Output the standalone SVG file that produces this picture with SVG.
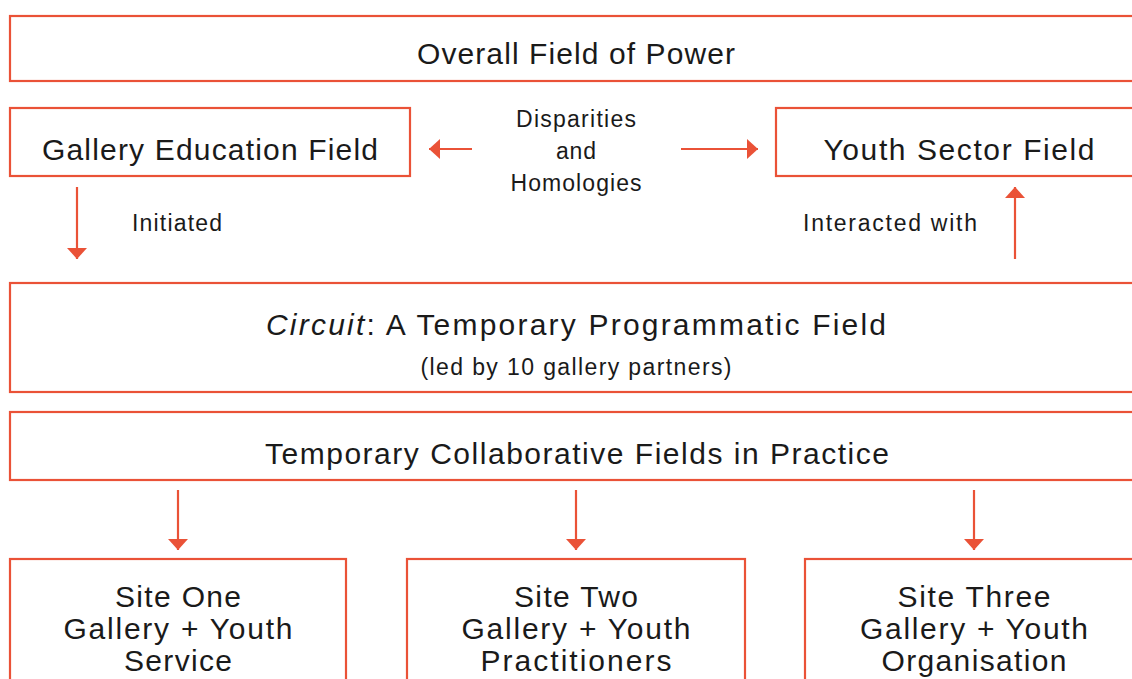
<svg xmlns="http://www.w3.org/2000/svg" width="1132" height="679" viewBox="0 0 1132 679">
  <style>
    .box { fill: #ffffff; stroke: #ea5237; stroke-width: 2.2; }
    .edge { stroke: #ea5237; stroke-width: 2.2; fill: none; }
    .t { font-family: "Liberation Sans", Arial, sans-serif; fill: #1a1a1a; text-anchor: middle; }
    .big { font-size: 30px; }
    .mid { font-size: 23px; }
    .site { font-size: 30px; }
  </style>
  <defs>
    <marker id="head" viewBox="0 0 11 20" refX="11" refY="10" markerWidth="11" markerHeight="20" markerUnits="userSpaceOnUse" orient="auto">
      <path d="M0,0 L11,10 L0,20 Z" fill="#ea5237"/>
    </marker>
  </defs>
  <rect width="1132" height="679" fill="#ffffff"/>

  <g id="overall-field">
    <rect class="box" x="10" y="16" width="1140" height="65"/>
    <text class="t big" x="576" y="64" textLength="318" lengthAdjust="spacing">Overall Field of Power</text>
  </g>

  <g id="gallery-education-field">
    <rect class="box" x="10" y="108" width="400" height="68"/>
    <text class="t big" x="210" y="160" textLength="336" lengthAdjust="spacing">Gallery Education Field</text>
  </g>

  <g id="youth-sector-field">
    <rect class="box" x="776" y="108" width="374" height="68"/>
    <text class="t big" x="959" y="160" textLength="271" lengthAdjust="spacing">Youth Sector Field</text>
  </g>

  <g id="circuit-field">
    <rect class="box" x="10" y="283" width="1140" height="109"/>
    <text class="t big" x="576" y="335" textLength="620" lengthAdjust="spacing"><tspan font-style="italic">Circuit</tspan>: A Temporary Programmatic Field</text>
    <text class="t mid" x="576" y="375" textLength="311" lengthAdjust="spacing">(led by 10 gallery partners)</text>
  </g>

  <g id="collaborative-fields">
    <rect class="box" x="10" y="412" width="1140" height="68"/>
    <text class="t big" x="577" y="464" textLength="624" lengthAdjust="spacing">Temporary Collaborative Fields in Practice</text>
  </g>

  <g id="site-one">
    <rect class="box" x="10" y="559" width="336" height="140"/>
    <text class="t site" x="178" y="607" textLength="126" lengthAdjust="spacing">Site One</text>
    <text class="t site" x="178" y="639" textLength="229" lengthAdjust="spacing">Gallery + Youth</text>
    <text class="t site" x="178" y="671" textLength="108" lengthAdjust="spacing">Service</text>
  </g>

  <g id="site-two">
    <rect class="box" x="407" y="559" width="338" height="140"/>
    <text class="t site" x="576" y="607" textLength="124" lengthAdjust="spacing">Site Two</text>
    <text class="t site" x="576" y="639" textLength="229" lengthAdjust="spacing">Gallery + Youth</text>
    <text class="t site" x="576" y="671" textLength="191" lengthAdjust="spacing">Practitioners</text>
  </g>

  <g id="site-three">
    <rect class="box" x="805" y="559" width="338" height="140"/>
    <text class="t site" x="974" y="607" textLength="153" lengthAdjust="spacing">Site Three</text>
    <text class="t site" x="974" y="639" textLength="228" lengthAdjust="spacing">Gallery + Youth</text>
    <text class="t site" x="974" y="671" textLength="185" lengthAdjust="spacing">Organisation</text>
  </g>

  <g id="connectors">
    <line class="edge" x1="472" y1="149" x2="429" y2="149" marker-end="url(#head)"/>
    <line class="edge" x1="681" y1="149" x2="758" y2="149" marker-end="url(#head)"/>
    <line class="edge" x1="77" y1="187" x2="77" y2="259" marker-end="url(#head)"/>
    <line class="edge" x1="1015" y1="259" x2="1015" y2="187" marker-end="url(#head)"/>
    <line class="edge" x1="178" y1="490" x2="178" y2="550" marker-end="url(#head)"/>
    <line class="edge" x1="576" y1="490" x2="576" y2="550" marker-end="url(#head)"/>
    <line class="edge" x1="974" y1="490" x2="974" y2="550" marker-end="url(#head)"/>
    <text class="t mid" x="576" y="127" textLength="120" lengthAdjust="spacing">Disparities</text>
    <text class="t mid" x="576" y="159" textLength="40" lengthAdjust="spacing">and</text>
    <text class="t mid" x="576" y="191" textLength="131" lengthAdjust="spacing">Homologies</text>
    <text class="t mid" x="177" y="231" textLength="90" lengthAdjust="spacing">Initiated</text>
    <text class="t mid" x="890" y="231" textLength="174" lengthAdjust="spacing">Interacted with</text>
  </g>
</svg>
